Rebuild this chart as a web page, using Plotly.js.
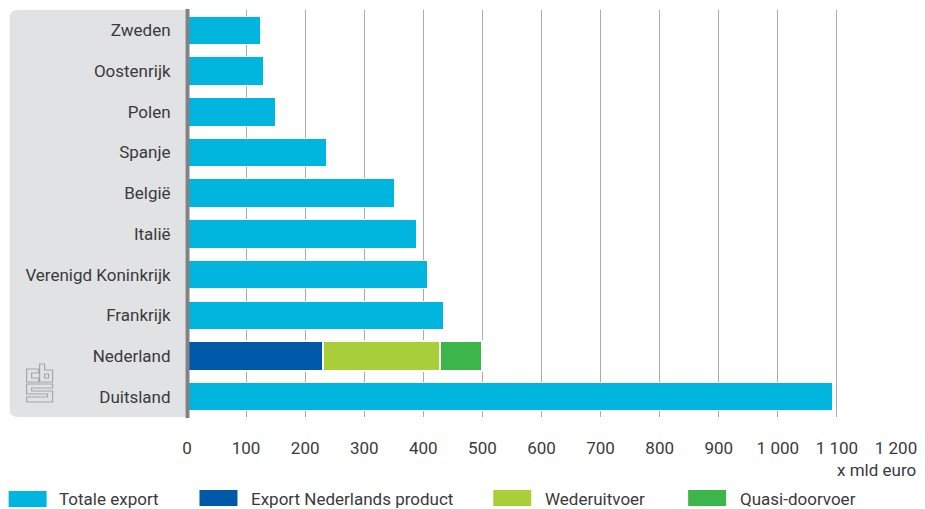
<!DOCTYPE html>
<html>
<head>
<meta charset="utf-8">
<script src="https://cdn.plot.ly/plotly-3.0.1.min.js"></script>
<style>html,body{margin:0;padding:0;background:#fff}</style>
</head>
<body>
<div id="chart" style="width:925px;height:509px"></div>
<script>
// Export of goods per country, x mld euro
const countries = ['Zweden','Oostenrijk','Polen','Spanje','België','Italië','Verenigd Koninkrijk','Frankrijk','Nederland','Duitsland'];
const totaleExport = [124,130,150,236,351,388,407,434,null,1092];
const nederlandsProduct = [null,null,null,null,null,null,null,null,230,null];
const wederuitvoer = [null,null,null,null,null,null,null,null,199,null];
const quasiDoorvoer = [null,null,null,null,null,null,null,null,71,null];
const tickValues = [0,100,200,300,400,500,600,700,800,900,1000,1100,1200];
const tickLabels = ['0','100','200','300','400','500','600','700','800','900','1 000','1 100','1 200'];
const seriesNames = ['Totale export','Export Nederlands product','Wederuitvoer','Quasi-doorvoer'];
const seriesColors = ['#00b6de','#0058a8','#a8cf3a','#3cb54a'];

const W = 925, H = 509;
const M = {l:186.5, r:29, t:10, b:92, pad:0};
const FONT = 'Roboto, sans-serif';
const SIZE = 17;
const INK = '#3a3a3c';
const X = px => (px - M.l) / (W - M.l - M.r);
const Y = py => 1 - (py - M.t) / (H - M.t - M.b);
const P = (px, py) => X(px) + ',' + Y(py);

// The stacked segments carry a wider white edge so they read as separate blocks
const bar = (name, values, color, edge, thickness) => ({
  type:'bar', orientation:'h', name, x:values, y:countries,
  width:thickness, marker:{color, line:{color:'#ffffff', width:edge}}, showlegend:false,
  hovertemplate:'%{y}: %{x}<extra>' + name + '</extra>'
});
const traces = [
  bar(seriesNames[0], totaleExport, seriesColors[0], 1, 0.7),
  bar(seriesNames[1], nederlandsProduct, seriesColors[1], 2, 0.73),
  bar(seriesNames[2], wederuitvoer, seriesColors[2], 2, 0.73),
  bar(seriesNames[3], quasiDoorvoer, seriesColors[3], 2, 0.73)
];

// Rounded grey panel behind the country names
const panel = {
  type:'path', xref:'paper', yref:'paper', layer:'below', fillcolor:'#e1e2e4', line:{width:0},
  path:'M'+P(185,10)+' L'+P(17,10)+' Q'+P(9,10)+' '+P(9,18)+' L'+P(9,409)+' Q'+P(9,417)+' '+P(17,417)+' L'+P(185,417)+' Z'
};
// Heavy baseline at zero
const baseline = {type:'line', xref:'paper', yref:'paper', x0:X(187), x1:X(187), y0:Y(9), y1:Y(418), layer:'above', line:{color:'#808285', width:4}};

// Outlined logo mark in the lower corner of the panel
const outline = pts => pts.map((p,i) => (i ? 'L' : 'M') + P(p[0],p[1])).join(' ') + ' Z';
const logoStroke = {color:'#a4a6a9', width:1.2};
const logoPaths = [
  outline([[38,369],[26,369],[26,382],[38,382],[38,378],[31,378],[31,373],[38,373]]),
  outline([[39,364],[44,364],[44,370],[52,370],[52,382],[39,382]]) + ' ' + outline([[44,374],[48,374],[48,378],[44,378]]),
  outline([[52,384],[26,384],[26,394],[47,394],[47,397],[26,397],[26,402],[52,402],[52,391],[31,391],[31,388],[52,388]])
];
const logo = logoPaths.map(path => ({type:'path', xref:'paper', yref:'paper', layer:'above', path, line:logoStroke}));

// Legend row: wide swatches with their labels
const swatchX = [8,199,493,688];
const swatchY = [491,490,490,490];
const labelX = [57.5,250,544,739];
const swatches = seriesNames.map((n,i) => ({
  type:'rect', xref:'paper', yref:'paper', line:{width:0}, fillcolor:seriesColors[i],
  x0:X(swatchX[i]), x1:X(swatchX[i]+38), y0:Y(swatchY[i]), y1:Y(swatchY[i]+16)
}));
const legendLabels = seriesNames.map((n,i) => ({
  text:n, xref:'paper', yref:'paper', x:X(labelX[i]), y:Y(499.5), xanchor:'left', yanchor:'middle',
  showarrow:false, borderpad:0, font:{family:FONT, size:SIZE, color:INK}
}));
const unitLabel = {
  text:'x mld euro', xref:'paper', yref:'paper', x:X(917), y:Y(470), xanchor:'right', yanchor:'middle',
  showarrow:false, borderpad:0, font:{family:FONT, size:SIZE, color:INK}
};

const layout = {
  width:W, height:H, margin:M, barmode:'stack', bargap:0.3,
  paper_bgcolor:'#ffffff', plot_bgcolor:'rgba(0,0,0,0)',
  font:{family:FONT, size:SIZE, color:INK}, showlegend:false,
  xaxis:{range:[0,1200], tickvals:tickValues, ticktext:tickLabels, showgrid:true, gridcolor:'#a9abae', gridwidth:1,
    zeroline:false, showline:false, ticks:'outside', ticklen:16, tickcolor:'rgba(0,0,0,0)', tickangle:0, automargin:false},
  yaxis:{type:'category', categoryorder:'array', categoryarray:countries, range:[9.5,-0.5], showgrid:false,
    zeroline:false, showline:false, ticks:'outside', ticklen:12, tickcolor:'rgba(0,0,0,0)', automargin:false, ticklabelshift:-0.5},
  shapes:[panel, baseline, ...logo, ...swatches],
  annotations:[unitLabel, ...legendLabels]
};
Plotly.newPlot('chart', traces, layout, {displayModeBar:false, responsive:false});
</script>
</body>
</html>
